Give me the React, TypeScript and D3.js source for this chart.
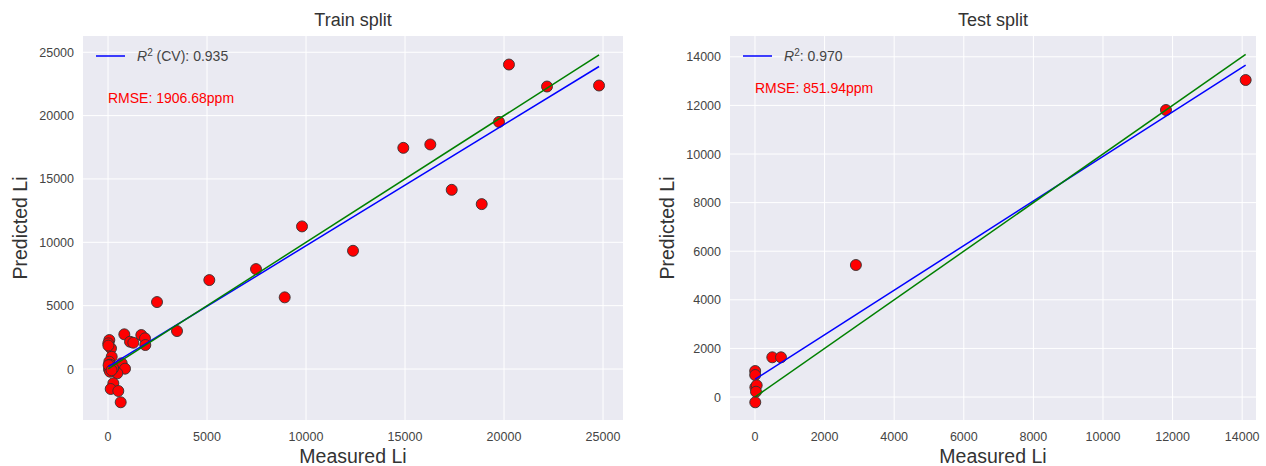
import React from "react";
import * as d3 from "d3";

// train split: measured vs predicted Li (ppm)
const trainMeasured = [
  20250, 22172, 24800, 14914, 16278, 17359, 18874, 19747,
  5116, 7475, 8924, 9798, 12374, 2475, 3485,
  66, 15, 152, 823, 1111, 1278, 1682, 1869, 1884,
  187, 66, 692, 50, 859, 470, 101, 268, 136, 520, 641,
  100, 260, 20, 30, 180,
];
const trainPredicted = [
  24030, 22295, 22374, 17453, 17721, 14140, 13013, 19503,
  7019, 7886, 5655, 11254, 9330, 5284, 2997,
  2287, 2027, 1632, 2737, 2153, 2074, 2681, 2421, 1893,
  970, 576, 450, -24, 24, -339, -213, -1128, -1577, -1735, -2626,
  340, 60, 1850, 300, -100,
];

// test split
const testMeasured = [14100, 11810, 2900, 497, 747, 5, 5, 10, 49, 29, 8];
const testPredicted = [13045, 11811, 5432, 1634, 1634, 1070, 905, 399, 481, 218, -218];

// regression lines (slope, intercept)
const trainFit = [0.956, 167];
const testFit = [0.917, 728];

const trainLegend = " (CV): 0.935";
const testLegend = ": 0.970";
const trainRmse = "RMSE: 1906.68ppm";
const testRmse = "RMSE: 851.94ppm";

const trainTicksX = [0, 5000, 10000, 15000, 20000, 25000];
const trainTicksY = [0, 5000, 10000, 15000, 20000, 25000];
const testTicksX = [0, 2000, 4000, 6000, 8000, 10000, 12000, 14000];
const testTicksY = [0, 2000, 4000, 6000, 8000, 10000, 12000, 14000];

const FONT = "'Liberation Sans', Arial, sans-serif";

type PanelProps = {
  title: string;
  left: number;
  right: number;
  xDomain: [number, number];
  yDomain: [number, number];
  xTicks: number[];
  yTicks: number[];
  measured: number[];
  predicted: number[];
  fit: number[];
  legend: string;
  rmse: string;
  rmseY: number;
};

const TOP = 36;
const BOTTOM = 420;

function Panel(p: PanelProps) {
  const x = d3.scaleLinear().domain(p.xDomain).range([p.left, p.right]);
  const y = d3.scaleLinear().domain(p.yDomain).range([BOTTOM, TOP]);
  const lo = d3.min(p.measured) as number;
  const hi = d3.max(p.measured) as number;
  const line = d3.line<number[]>().x((d) => x(d[0])).y((d) => y(d[1]));
  const fitPts = [lo, hi].map((v) => [v, p.fit[0] * v + p.fit[1]]);
  const idPts = [lo, hi].map((v) => [v, v]);
  const cx = (p.left + p.right) / 2;
  const cy = (TOP + BOTTOM) / 2;

  return (
    <g>
      <rect x={p.left} y={TOP} width={p.right - p.left} height={BOTTOM - TOP} fill="#EAEAF2" />
      {p.xTicks.map((t) => (
        <g key={"x" + t}>
          <line x1={x(t)} x2={x(t)} y1={TOP} y2={BOTTOM} stroke="#fff" strokeWidth={1} />
          <text x={x(t)} y={441} textAnchor="middle" fontSize={12.5} fill="#444">{t}</text>
        </g>
      ))}
      {p.yTicks.map((t) => (
        <g key={"y" + t}>
          <line x1={p.left} x2={p.right} y1={y(t)} y2={y(t)} stroke="#fff" strokeWidth={1} />
          <text x={p.left - 9} y={y(t) + 4.5} textAnchor="end" fontSize={12.5} fill="#444">{t}</text>
        </g>
      ))}
      {p.measured.map((m, i) => (
        <circle key={i} cx={x(m)} cy={y(p.predicted[i])} r={5.5} fill="#ff0000" stroke="#333" strokeWidth={0.9} />
      ))}
      <path d={line(fitPts) || ""} fill="none" stroke="#0000ff" strokeWidth={1.5} />
      <path d={line(idPts) || ""} fill="none" stroke="#008000" strokeWidth={1.5} />
      <line x1={p.left + 13} x2={p.left + 42} y1={56} y2={56} stroke="#0000ff" strokeWidth={1.5} />
      <text x={p.left + 54} y={61} fontSize={14} fill="#444">
        <tspan fontStyle="italic">R</tspan>
        <tspan fontSize={10} dy={-5.5}>2</tspan>
        <tspan dy={5.5}>{p.legend}</tspan>
      </text>
      <text x={x(0)} y={y(p.rmseY)} fontSize={14} fill="#ff0000">{p.rmse}</text>
      <text x={cx} y={26} textAnchor="middle" fontSize={18} fill="#333">{p.title}</text>
      <text x={cx} y={463} textAnchor="middle" fontSize={19.5} fill="#333">Measured Li</text>
      <text transform={`translate(${p.left - 56},${cy}) rotate(-90)`} textAnchor="middle" fontSize={19.5} fill="#333">
        Predicted Li
      </text>
    </g>
  );
}

export default function App() {
  return (
    <svg
      width={1266}
      height={466}
      style={{ position: "absolute", left: 0, top: 0, background: "#fff", fontFamily: FONT }}
    >
      <Panel
        title="Train split"
        left={83}
        right={623}
        xDomain={[-1263, 26010]}
        yDomain={[-4025, 26282]}
        xTicks={trainTicksX}
        yTicks={trainTicksY}
        measured={trainMeasured}
        predicted={trainPredicted}
        fit={trainFit}
        legend={trainLegend}
        rmse={trainRmse}
        rmseY={21000}
      />
      <Panel
        title="Test split"
        left={730}
        right={1256}
        xDomain={[-718, 14397]}
        yDomain={[-946, 14856]}
        xTicks={testTicksX}
        yTicks={testTicksY}
        measured={testMeasured}
        predicted={testPredicted}
        fit={testFit}
        legend={testLegend}
        rmse={testRmse}
        rmseY={12500}
      />
    </svg>
  );
}
